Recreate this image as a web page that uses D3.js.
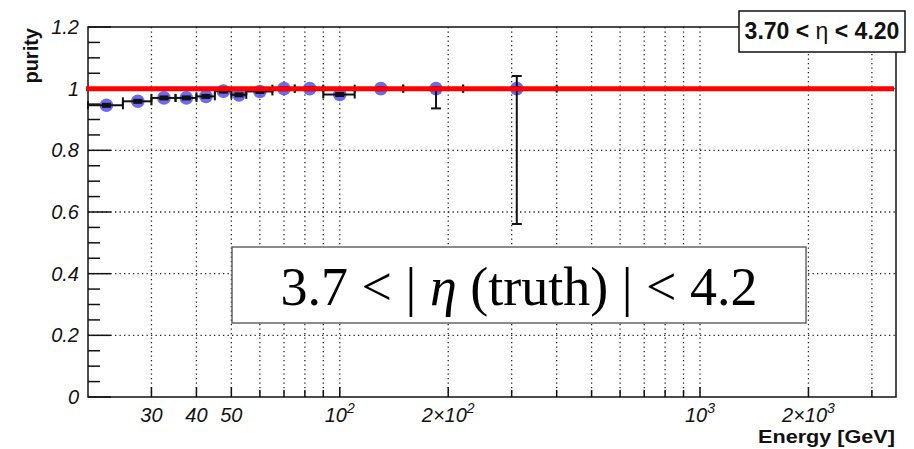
<!DOCTYPE html>
<html>
<head>
<meta charset="utf-8">
<script src="https://cdn.jsdelivr.net/npm/d3@7"></script>
<style>
  body { margin: 0; background: #fff; }
  svg { display: block; }
</style>
</head>
<body>
<div id="chart-area"></div>
<script>
// bins in energy (GeV), purity per bin and asymmetric errors
const binEdges = [20, 25, 30, 35, 40, 45, 50, 55, 65, 75, 90, 110, 150, 220, 400];
const purity   = [0.946, 0.959, 0.970, 0.970, 0.975, 0.992, 0.980, 0.991, 1.0, 1.0, 0.981, 1.0, 1.0, 1.0];
const errLow   = [0.004, 0.004, 0.004, 0.004, 0.008, 0.004, 0.005, 0.005, 0, 0, 0.008, 0, 0.064, 0.439];
const errHigh  = [0.004, 0.004, 0.004, 0.004, 0.008, 0.004, 0.005, 0.005, 0, 0, 0.008, 0, 0, 0.041];

const xTickValues = [30, 40, 50, 100, 200, 1000, 2000];
const xTickLabels = ['30', '40', '50', '10^2', '2\u00d710^2', '10^3', '2\u00d710^3'];
const yTickValues = [0, 0.2, 0.4, 0.6, 0.8, 1, 1.2];
const yTickLabels = ['0', '0.2', '0.4', '0.6', '0.8', '1', '1.2'];
const refLevel = 1.0;

const W = 914, H = 449;
const frame = { left: 88, right: 896, top: 27, bottom: 397 };

const svg = d3.select('#chart-area')
    .append('svg')
    .attr('width', W)
    .attr('height', H);

const x = d3.scaleLog()
    .domain([20, 3500])
    .range([frame.left, frame.right]);

const y = d3.scaleLinear()
    .domain([0, 1.2])
    .range([frame.bottom, frame.top]);

const bins = purity.map((p, i) => ({
    lo: binEdges[i],
    hi: binEdges[i + 1],
    c: (binEdges[i] + binEdges[i + 1]) / 2,
    v: p,
    el: errLow[i],
    eh: errHigh[i]
}));

const sans = 'Liberation Sans, Arial, sans-serif';

// grid
const gridX = x.ticks().filter(d => d > 20 && d < 3500);
svg.append('g').selectAll('line')
    .data(gridX)
    .join('line')
    .attr('x1', d => x(d)).attr('x2', d => x(d))
    .attr('y1', frame.top).attr('y2', frame.bottom)
    .attr('stroke', '#222').attr('stroke-width', 1.3)
    .attr('stroke-dasharray', '1.3,3.2');

svg.append('g').selectAll('line')
    .data([0.2, 0.4, 0.6, 0.8, 1.0])
    .join('line')
    .attr('x1', frame.left).attr('x2', frame.right)
    .attr('y1', d => y(d)).attr('y2', d => y(d))
    .attr('stroke', '#222').attr('stroke-width', 1.3)
    .attr('stroke-dasharray', '1.3,3.2');

// frame
svg.append('rect')
    .attr('x', frame.left).attr('y', frame.top)
    .attr('width', frame.right - frame.left)
    .attr('height', frame.bottom - frame.top)
    .attr('fill', 'none').attr('stroke', '#111').attr('stroke-width', 1.5);

// y ticks
const yMinor = d3.range(0, 1.2001, 0.05);
svg.append('g').selectAll('line')
    .data(yMinor)
    .join('line')
    .attr('x1', frame.left)
    .attr('x2', (d, i) => frame.left + (i % 4 === 0 ? 23 : 12))
    .attr('y1', d => y(d)).attr('y2', d => y(d))
    .attr('stroke', '#111').attr('stroke-width', 1.5);

svg.append('g').selectAll('text')
    .data(yTickValues)
    .join('text')
    .attr('x', 79)
    .attr('y', d => y(d) + 7)
    .attr('text-anchor', 'end')
    .attr('font-family', sans)
    .attr('font-style', 'italic')
    .attr('font-size', 20)
    .attr('fill', '#111')
    .text((d, i) => yTickLabels[i]);

// x ticks
svg.append('g').selectAll('line')
    .data(gridX)
    .join('line')
    .attr('x1', d => x(d)).attr('x2', d => x(d))
    .attr('y1', frame.bottom)
    .attr('y2', d => frame.bottom - (xTickValues.includes(d) ? 10 : 7))
    .attr('stroke', '#111').attr('stroke-width', 1.5);

const xl = svg.append('g').selectAll('text')
    .data(xTickValues)
    .join('text')
    .attr('x', d => x(d))
    .attr('y', 422)
    .attr('text-anchor', 'middle')
    .attr('font-family', sans)
    .attr('font-style', 'italic')
    .attr('font-size', 20)
    .attr('fill', '#111');

xl.each(function (d, i) {
    const parts = xTickLabels[i].split('^');
    const t = d3.select(this);
    t.append('tspan').text(parts[0]);
    if (parts[1]) {
        t.append('tspan')
            .attr('dy', -9)
            .attr('font-size', 14)
            .text(parts[1]);
    }
});

// axis titles
svg.append('text')
    .attr('transform', 'translate(38,28) rotate(-90)')
    .attr('text-anchor', 'end')
    .attr('font-family', sans)
    .attr('font-weight', 'bold')
    .attr('font-size', 20)
    .attr('fill', '#111')
    .text('purity');

svg.append('text')
    .attr('x', 895).attr('y', 443)
    .attr('text-anchor', 'end')
    .attr('font-family', sans)
    .attr('font-weight', 'bold')
    .attr('font-size', 18)
    .attr('textLength', 137)
    .attr('lengthAdjust', 'spacingAndGlyphs')
    .attr('fill', '#111')
    .text('Energy [GeV]');

// markers
svg.append('g').selectAll('circle')
    .data(bins)
    .join('circle')
    .attr('cx', d => x(d.c))
    .attr('cy', d => y(d.v))
    .attr('r', 6.8)
    .attr('fill', '#5050f0')
    .attr('fill-opacity', 0.85);

// error bars
const eb = svg.append('g')
    .attr('stroke', '#111')
    .attr('stroke-width', 2)
    .attr('fill', 'none');

bins.forEach(d => {
    const cy = y(d.v);
    eb.append('line')
        .attr('x1', x(d.lo)).attr('x2', x(d.hi))
        .attr('y1', cy).attr('y2', cy);
    [d.lo, d.hi].forEach(e => {
        eb.append('line')
            .attr('x1', x(e)).attr('x2', x(e))
            .attr('y1', cy - 4).attr('y2', cy + 4);
    });
    if (d.el > 0 || d.eh > 0) {
        const cx = x(d.c);
        eb.append('line')
            .attr('x1', cx).attr('x2', cx)
            .attr('y1', y(d.v - d.el)).attr('y2', y(d.v + d.eh));
        [d.v - d.el, d.v + d.eh].forEach(v => {
            if (Math.abs(y(v) - cy) > 4) {
                eb.append('line')
                    .attr('x1', cx - 5).attr('x2', cx + 5)
                    .attr('y1', y(v)).attr('y2', y(v));
            }
        });
    }
});

svg.append('g').selectAll('rect')
    .data(bins)
    .join('rect')
    .attr('x', d => x(d.c) - 4.5)
    .attr('y', d => y(d.v) - 2.5)
    .attr('width', 9).attr('height', 5)
    .attr('fill', '#111');

// reference line
svg.append('line')
    .attr('x1', frame.left - 2).attr('x2', frame.right - 2)
    .attr('y1', y(refLevel)).attr('y2', y(refLevel))
    .attr('stroke', '#ff0000').attr('stroke-width', 5);

// stat box
svg.append('rect')
    .attr('x', 739).attr('y', 11)
    .attr('width', 166).attr('height', 41)
    .attr('fill', '#fff').attr('stroke', '#111').attr('stroke-width', 1.5);

const st = svg.append('text')
    .attr('x', 822).attr('y', 39)
    .attr('text-anchor', 'middle')
    .attr('font-family', sans)
    .attr('font-weight', 'bold')
    .attr('font-size', 23)
    .attr('fill', '#111');
st.append('tspan').text('3.70 < ');
st.append('tspan').attr('font-weight', 'normal').text('\u03b7');
st.append('tspan').text(' < 4.20');

// big label
svg.append('rect')
    .attr('x', 232).attr('y', 247)
    .attr('width', 574).attr('height', 76)
    .attr('fill', '#fff').attr('stroke', '#666').attr('stroke-width', 1.5);

const bl = svg.append('text')
    .attr('x', 519).attr('y', 305)
    .attr('text-anchor', 'middle')
    .attr('font-family', 'Liberation Serif, Times New Roman, serif')
    .attr('font-size', 54)
    .attr('fill', '#000');
bl.append('tspan').text('3.7 < | ');
bl.append('tspan').attr('font-style', 'italic').text('\u03b7');
bl.append('tspan').text(' (truth) | < 4.2');
</script>
</body>
</html>
